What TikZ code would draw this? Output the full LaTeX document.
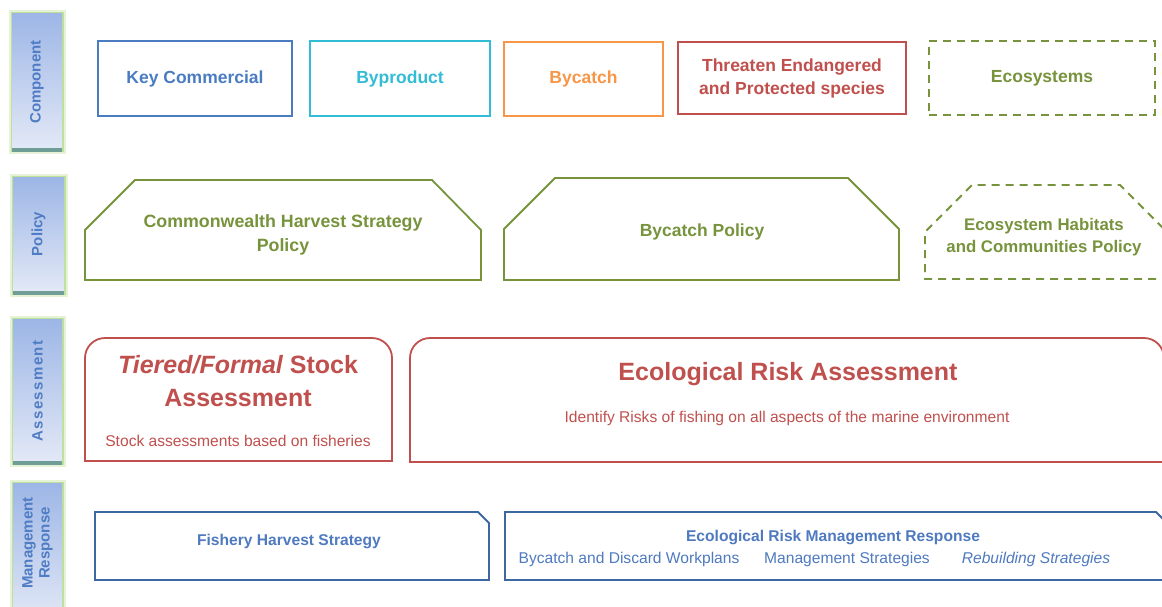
\documentclass[tikz,border=0pt]{standalone}
\usepackage{fontspec}
\setmainfont{Liberation Sans}
\definecolor{barTop}{HTML}{9DB6E6}
\definecolor{barBot}{HTML}{E2E8F6}
\definecolor{barText}{HTML}{4F7CC4}
\definecolor{glowC}{HTML}{B5DC8C}
\definecolor{stripC}{HTML}{6E9E96}
\definecolor{keyBlue}{HTML}{4A7CC1}
\definecolor{byCyan}{HTML}{33BCD6}
\definecolor{bcOrange}{HTML}{F79646}
\definecolor{tepRed}{HTML}{C0504D}
\definecolor{ecoGreen}{HTML}{77933C}
\definecolor{mgmtBlue}{HTML}{3D67A2}
\definecolor{mgmtText}{HTML}{4F7AC0}
\begin{document}
\begin{tikzpicture}[x=1pt,y=-1pt,
  sidebar/.style={top color=barTop, bottom color=barBot},
  sideglow/.style={draw=glowC, line width=7pt, opacity=0.35},
  sideedge/.style={draw=glowC, line width=3pt, opacity=0.8},
  sidetext/.style={rotate=90, text=barText, align=center, font=\bfseries\fontsize{15}{17}\selectfont},
  comp/.style={draw=#1, text=#1, line width=1.6pt, align=center, font=\bfseries\fontsize{17.5}{23}\selectfont},
  policy/.style={draw=ecoGreen, line width=1.8pt},
  poltext/.style={text=ecoGreen, align=center, font=\bfseries\fontsize{17.5}{23}\selectfont},
  asmt/.style={draw=tepRed, line width=1.8pt},
  mgmt/.style={draw=mgmtBlue, line width=1.8pt},
  mgmttext/.style={text=mgmtText, font=\bfseries\fontsize{15.6}{18}\selectfont},
  subtext/.style={text=mgmtText, font=\fontsize{15.6}{18}\selectfont}
]
  \clip (0,0) rectangle (1162,606);
  \fill[white] (0,0) rectangle (1162,606);

  \draw[sideglow] (12,13) rectangle (62,150);
  \draw[sideedge] (12,13) rectangle (62,150);
  \shade[sidebar] (12,13) rectangle (62,148);
  \fill[stripC] (12,148) rectangle (62,152);
  \node[sidetext] (component) at (37,82) {Component};

  \draw[sideglow] (13,177) rectangle (64,293);
  \draw[sideedge] (13,177) rectangle (64,293);
  \shade[sidebar] (13,177) rectangle (64,291);
  \fill[stripC] (13,291) rectangle (64,295);
  \node[sidetext] (policy) at (38.5,234) {Policy};

  \draw[sideglow] (13,319) rectangle (62,463);
  \draw[sideedge] (13,319) rectangle (62,463);
  \shade[sidebar] (13,319) rectangle (62,461);
  \fill[stripC] (13,461) rectangle (62,465);
  \node[sidetext] (assessment) at (37.5,391) {A\kern1.4pt s\kern1.4pt s\kern1.4pt e\kern1.4pt s\kern1.4pt s\kern1.4pt m\kern1.4pt e\kern1.4pt n\kern1.4pt t};

  \draw[sideglow] (13,483) rectangle (62,620);
  \draw[sideedge] (13,483) rectangle (62,620);
  \shade[sidebar] (13,483) rectangle (62,620);
  \node[sidetext] (response) at (37.5,543) {Management\\Response};

  \node[comp=keyBlue, minimum width=194, minimum height=75] (keycomm) at (195,78.5) {Key Commercial};
  \node[comp=byCyan, minimum width=180, minimum height=75] (byprod) at (400,78.5) {Byproduct};
  \node[comp=bcOrange, minimum width=159, minimum height=74] (bycatch) at (583.5,79) {Bycatch};
  \node[comp=tepRed, minimum width=228, minimum height=72] (tep) at (792,78) {Threaten Endangered\\and Protected species};
  \node[comp=ecoGreen, dash pattern=on 8pt off 6pt, minimum width=226, minimum height=74] (ecosys) at (1042,78) {Ecosystems};

  \draw[policy] (85,280) -- (85,230) -- (135,180) -- (432,180) -- (481,230) -- (481,280) -- cycle;
  \node[poltext, font=\bfseries\fontsize{17.8}{24}\selectfont] (hspolicy) at (283,235) {Commonwealth Harvest Strategy\\Policy};
  \draw[policy] (504,280) -- (504,229) -- (555,178) -- (848,178) -- (899,229) -- (899,280) -- cycle;
  \node[poltext] (bcpolicy) at (702,232) {Bycatch Policy};
  \draw[policy, dash pattern=on 8pt off 6pt] (1170,279) -- (925,279) -- (925,232) -- (972,185) -- (1120,185) -- (1170,235);
  \node[poltext, font=\bfseries\fontsize{16.8}{22}\selectfont] (ehcpolicy) at (1044,237) {Ecosystem Habitats\\and Communities Policy};

  \draw[asmt] (85,461) [rounded corners=20pt] -- (85,338) -- (392,338) [sharp corners] -- (392,461) -- cycle;
  \node[text=tepRed, align=center, font=\bfseries\fontsize{25}{33}\selectfont] (stock) at (238,381) {{\itshape Tiered/Formal} Stock\\Assessment};
  \node[text=tepRed, font=\fontsize{15.6}{18}\selectfont] (stocksub) at (238,441) {Stock assessments based on fisheries};
  \draw[asmt] (410,462) [rounded corners=20pt] -- (410,338) -- (1164,338) [sharp corners] -- (1164,462) -- cycle;
  \node[text=tepRed, font=\bfseries\fontsize{25}{30}\selectfont] (era) at (788,374) {Ecological Risk Assessment};
  \node[text=tepRed, font=\fontsize{15.6}{18}\selectfont] (erasub) at (787,418) {Identify Risks of fishing on all aspects of the marine environment};

  \draw[mgmt] (95,580) -- (95,512) -- (478,512) -- (489,523) -- (489,580) -- cycle;
  \node[mgmttext] (fhs) at (289,541) {Fishery Harvest Strategy};
  \draw[mgmt] (505,580) -- (505,512) -- (1156,512) -- (1167,523) -- (1167,580) -- cycle;
  \node[mgmttext] (ermr) at (833,537) {Ecological Risk Management Response};
  \node[subtext] (workplans) at (629,559) {Bycatch and Discard Workplans};
  \node[subtext] (mstrat) at (847,559) {Management Strategies};
  \node[subtext, font=\itshape\fontsize{15.6}{18}\selectfont] (rebuild) at (1036,559) {Rebuilding Strategies};
\end{tikzpicture}
\end{document}
